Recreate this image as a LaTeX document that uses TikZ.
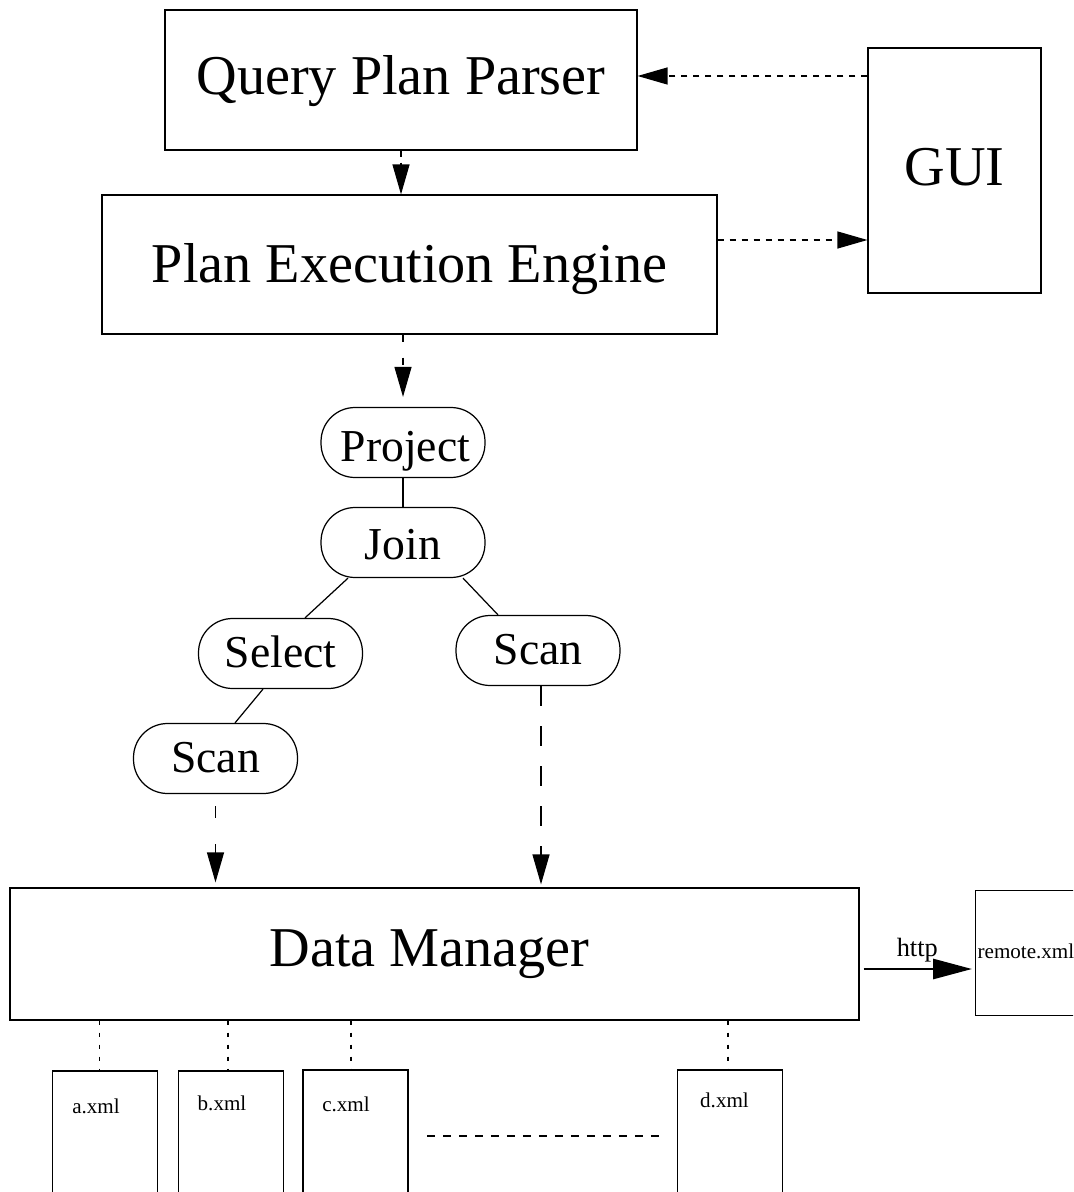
\documentclass[tikz,border=0pt]{standalone}
\usepackage{fontspec}
\setmainfont{Liberation Serif}
\usetikzlibrary{arrows.meta}

\begin{document}
\begin{tikzpicture}[x=0.02cm, y=-0.02cm, line width=0.7pt,
  bigbox/.style={draw, rectangle, text height=22.4pt, font=\fontsize{32}{38}\selectfont},
  opnode/.style={draw, rectangle, rounded corners=0.68cm, inner xsep=0.05cm, inner ysep=0pt, text height=18.2pt, text depth=2.6pt, minimum width=3.28cm, minimum height=1.4cm, font=\fontsize{26}{31}\selectfont},
  filebox/.style={draw, rectangle, minimum width=2.1cm, minimum height=3.6cm},
  filelbl/.style={font=\fontsize{12}{14}\selectfont, inner sep=0pt},
  ctrl/.style={dash pattern=on 0.12cm off 0.12cm, -{Triangle[length=0.6cm, width=0.34cm]}},
  link/.style={dash pattern=on 0.08cm off 0.16cm}]
\useasboundingbox (0,0) rectangle (1073,1192);
\clip (0,0) rectangle (1073,1192);

% main boxes
\node[bigbox, text depth=5.4pt, minimum width=9.44cm, minimum height=2.8cm] (qpp) at (401,80) {Query Plan Parser};
\node[bigbox, text depth=1.4pt, minimum width=12.3cm, minimum height=2.78cm] (pee) at (409.5,264.5) {Plan Execution Engine};
\node[bigbox, text depth=4.8pt, minimum width=3.46cm, minimum height=4.9cm] (gui) at (954.5,170.5) {GUI};
\node[bigbox, text depth=7.7pt, minimum width=16.98cm, minimum height=2.64cm] (dm) at (434.5,954) {\hspace{-0.2cm}Data Manager};

\draw[ctrl] (qpp.south) -- (qpp.south |- pee.north);
\draw[ctrl] ([yshift=0.08cm]gui.west |- qpp.east) -- ([yshift=0.08cm]qpp.east);
\draw[ctrl] ([yshift=0.49cm]pee.east) -- ([yshift=0.49cm]pee.east -| gui.west);

% operator tree
\node[opnode, text height=24.7pt] (project) at (403,442.5) {\hspace{0.1cm}Project};
\node[opnode, text height=22.4pt] (join) at (403,542.5) {Join};
\node[opnode] (select) at (280.5,653.5) {Select};
\node[opnode, text height=19pt] (scanr) at (538,650.5) {Scan};
\node[opnode] (scanl) at (215.5,758.5) {Scan};

\draw[ctrl, dash pattern=on 0.14cm off 0.32cm] (pee.south -| project) -- ([yshift=0.2cm]project.north);
\draw (project) -- (join);
\draw ([xshift=-1.1cm]join.south) -- ([xshift=0.49cm]select.north);
\draw ([xshift=1.2cm]join.south) -- ([xshift=-0.8cm]scanr.north);
\draw ([xshift=-0.35cm]select.south) -- ([xshift=0.39cm]scanl.north);

\draw[ctrl, dash pattern=on 0.24cm off 0.52cm, shorten <=0.24cm, shorten >=0.1cm] (scanl.south) -- (scanl.south |- dm.north);
\draw[ctrl, dash pattern=on 0.4cm off 0.4cm, shorten >=0.06cm] ([xshift=0.06cm]scanr.south) -- ([xshift=0.06cm]scanr.south |- dm.north);

% files
\node[filebox] (axml) at (105,1161) {};
\node[filebox] (bxml) at (231,1161) {};
\node[filebox] (cxml) at (355.5,1160) {};
\node[filebox] (dxml) at (730,1160) {};
\node[filelbl] (alabel) at (96,1106) {a.xml};
\node[filelbl] (blabel) at (222,1103) {b.xml};
\node[filelbl] (clabel) at (346,1104.5) {c.xml};
\node[filelbl] (dlabel) at (724.5,1100) {d.xml};

\draw[link] ([xshift=-0.11cm]axml.north |- dm.south) -- ([xshift=-0.11cm]axml.north);
\draw[link] ([xshift=-0.06cm]bxml.north |- dm.south) -- ([xshift=-0.06cm]bxml.north);
\draw[link] ([xshift=-0.09cm]cxml.north |- dm.south) -- ([xshift=-0.09cm]cxml.north);
\draw[link] ([xshift=-0.04cm]dxml.north |- dm.south) -- ([xshift=-0.04cm]dxml.north);

\coordinate (dotl) at (427,1136);
\coordinate (dotr) at (663,1136);
\draw[dash pattern=on 0.16cm off 0.16cm] (dotl) -- (dotr);

% remote file
\node[draw, rectangle, minimum width=2.5cm, minimum height=2.5cm, anchor=north west] (remote) at (975,890) {};
\node[filelbl, anchor=west] (rlabel) at (977,951) {remote.xml};
\draw[line width=1.6pt, -{Triangle[length=0.78cm, width=0.4cm]}, shorten <=0.08cm, shorten >=0.06cm] ([yshift=-0.3cm]dm.east) -- ([yshift=-0.3cm]dm.east -| remote.west) node[midway, above, font=\fontsize{15}{18}\selectfont] (http) {http};
\end{tikzpicture}
\end{document}
